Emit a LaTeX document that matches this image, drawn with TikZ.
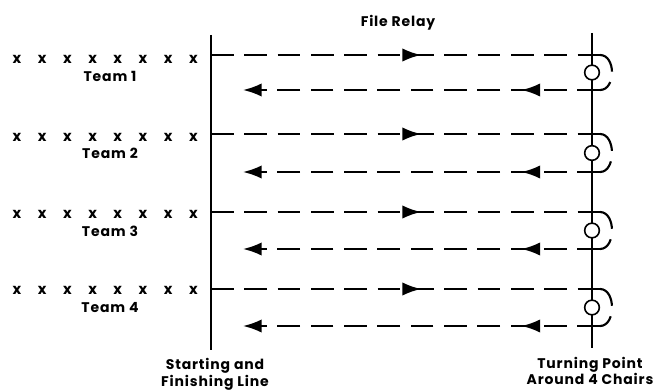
\documentclass[tikz,border=0pt]{standalone}
\usepackage{fontspec}
\setmainfont[LetterSpace=6]{Poppins}
\usetikzlibrary{arrows.meta}
\usetikzlibrary{decorations.markings}

\begin{document}
\begin{tikzpicture}
    [x=0.75pt, y=-0.75pt, line width=1.6pt,
      every node/.style={font=\fontsize{10.5}{12.5}\selectfont\bfseries},
      run/.style={dash pattern=on 17pt off 8pt},
      endtip/.style={-{Latex[length=14pt,width=10pt]}},
      midtip/.style={postaction={decorate},
        decoration={markings,mark=at position #1 with {\arrow{Latex[length=14pt,width=10pt]}}}},
      chair/.style={circle, draw, fill=white, inner sep=0pt, minimum size=11pt, line width=1.2pt},
      cross/.style={inner sep=0pt, font=\fontsize{11}{12}\selectfont\bfseries},
     ]
    \useasboundingbox (0,0) rectangle (656,392);
    % the two lines
    \coordinate (start top) at (211,35);
    \coordinate (start bottom) at (211,350);
    \coordinate (turn top) at (592,33);
    \coordinate (turn bottom) at (592,348);
    \draw[line width=1.8pt] (start top) -- (start bottom);
    \draw[line width=1.5pt] (turn top) -- (turn bottom);
    \node (title) at (398,23) {File Relay};
    % teams
    \foreach \i/\yo/\yr/\yc/\yl in {1/55/90/59/76, 2/134/172/137/153, 3/212/249/214/231, 4/289/326/290/308}
    {
      \foreach \k in {0,...,7}
        \node[cross] (x\i-\k) at ({17+\k*25.2},\yc) {x};
      \node (team\i) at (110,\yl) {Team \i};
      \coordinate (out\i) at (211,\yo);
      \coordinate (turnout\i) at (600,\yo);
      \coordinate (turnback\i) at (600,\yr);
      \coordinate (back\i) at (243,\yr);
      \draw[run, midtip=0.54] (out\i) -- (turnout\i);
      \draw[run, endtip, midtip=0.22] (turnback\i) -- (back\i);
      \draw[run] (turnout\i) .. controls (616,\yo) and (616,\yr) .. (turnback\i);
      \node[chair] (chair\i) at (592,{(\yo+\yr)/2}) {};
    }
    \node[align=center, inner sep=0pt] (start label) at (215,374) {Starting and\\Finishing Line};
    \node[align=center, inner sep=0pt] (turn label) at (590,371) {Turning Point\\Around 4 Chairs};
\end{tikzpicture}
\end{document}
